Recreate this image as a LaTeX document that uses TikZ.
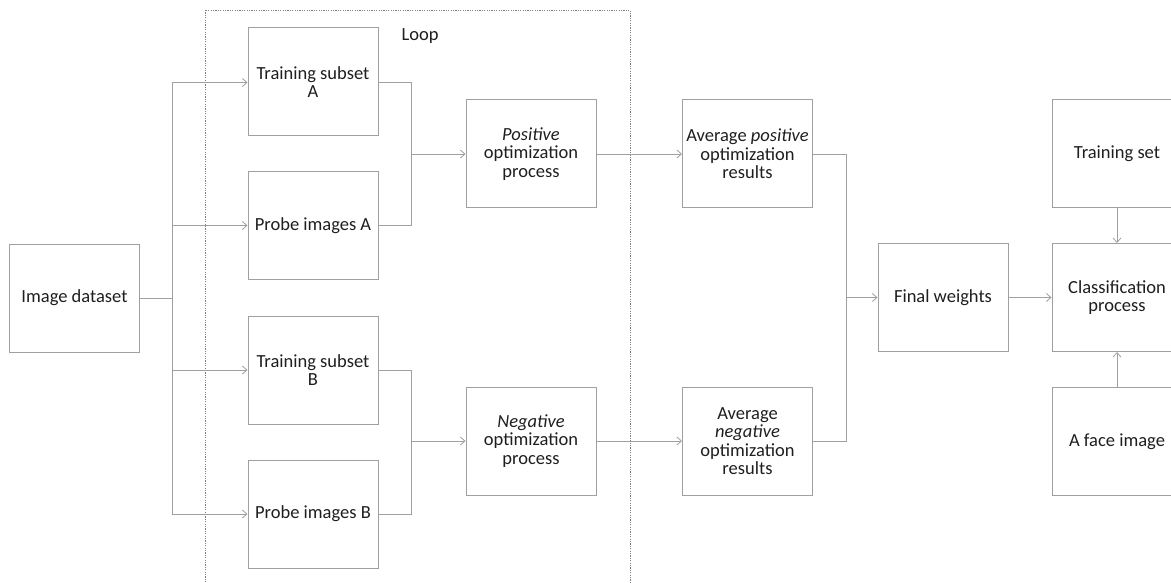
\documentclass[tikz,border=0pt]{standalone}
\usepackage{fontspec}
\setmainfont{Carlito}
\usetikzlibrary{arrows.meta}
\definecolor{linec}{RGB}{160,160,160}
\definecolor{txtc}{RGB}{30,30,30}
\begin{document}
\begin{tikzpicture}[x=1pt,y=-1pt,
  box/.style={draw=linec,line width=1pt,minimum width=130pt,minimum height=108pt,inner sep=0pt,align=center,text=txtc,font=\fontsize{18.5}{18.5}\selectfont},
  conn/.style={draw=linec,line width=0.9pt},
  arr/.style={conn,-{Straight Barb[length=4.5pt,width=8pt,line width=0.8pt]}},
  loopbox/.style={draw=gray,line width=0.7pt,dash pattern=on 1.2pt off 1.2pt}]
\useasboundingbox (0,0) rectangle (1171,583);
\clip (0,0) rectangle (1171,583);
\draw[loopbox] (205,10) rectangle (630,600);
\node[anchor=west,text=txtc,font=\fontsize{18.5}{18.5}\selectfont] (loop) at (398,36) {Loop};

\node[box] (ds) at (74.5,298) {Image dataset};
\node[box] (tA) at (313,82) {Training subset\\A};
\node[box] (pA) at (313,225.5) {Probe images A};
\node[box] (tB) at (313,370) {Training subset\\B};
\node[box] (pB) at (313,514) {Probe images B};
\node[box] (pos) at (531,154) {\textit{Positive}\\optimization\\process};
\node[box] (neg) at (531,441) {\textit{Negative}\\optimization\\process};
\node[box] (avp) at (747.5,154) {Average \textit{positive}\\optimization\\results};
\node[box] (avn) at (747.5,441) {Average\\\textit{negative}\\optimization\\results};
\node[box] (fw) at (943,297.5) {Final weights};
\node[box] (cl) at (1117,297.5) {Classification\\process};
\node[box] (ts) at (1117,154) {Training set};
\node[box] (fi) at (1117,441.5) {A face image};

\coordinate (br) at (172,298);
\coordinate (mA) at (411,154);
\coordinate (mB) at (411,441);
\coordinate (mF) at (846,297.5);

\draw[conn] (ds.east) -- (br);
\draw[arr] (br) |- ([yshift=-0.5pt]tA.west);
\draw[arr] (br) |- (pA.west);
\draw[arr] (br) |- (tB.west);
\draw[arr] (br) |- (pB.west);

\draw[conn] ([yshift=-0.5pt]tA.east) -| (mA);
\draw[conn] (pA.east) -| (mA);
\draw[arr] (mA) -- (pos.west);
\draw[conn] (tB.east) -| (mB);
\draw[conn] (pB.east) -| (mB);
\draw[arr] (mB) -- (neg.west);

\draw[arr] (pos) -- (avp);
\draw[arr] (neg) -- (avn);

\draw[conn] (avp.east) -| (mF);
\draw[conn] (avn.east) -| (mF);
\draw[arr] (mF) -- (fw.west);
\draw[arr] (fw) -- (cl);
\draw[arr] (ts) -- (cl);
\draw[arr] (fi) -- (cl);
\end{tikzpicture}
\end{document}
